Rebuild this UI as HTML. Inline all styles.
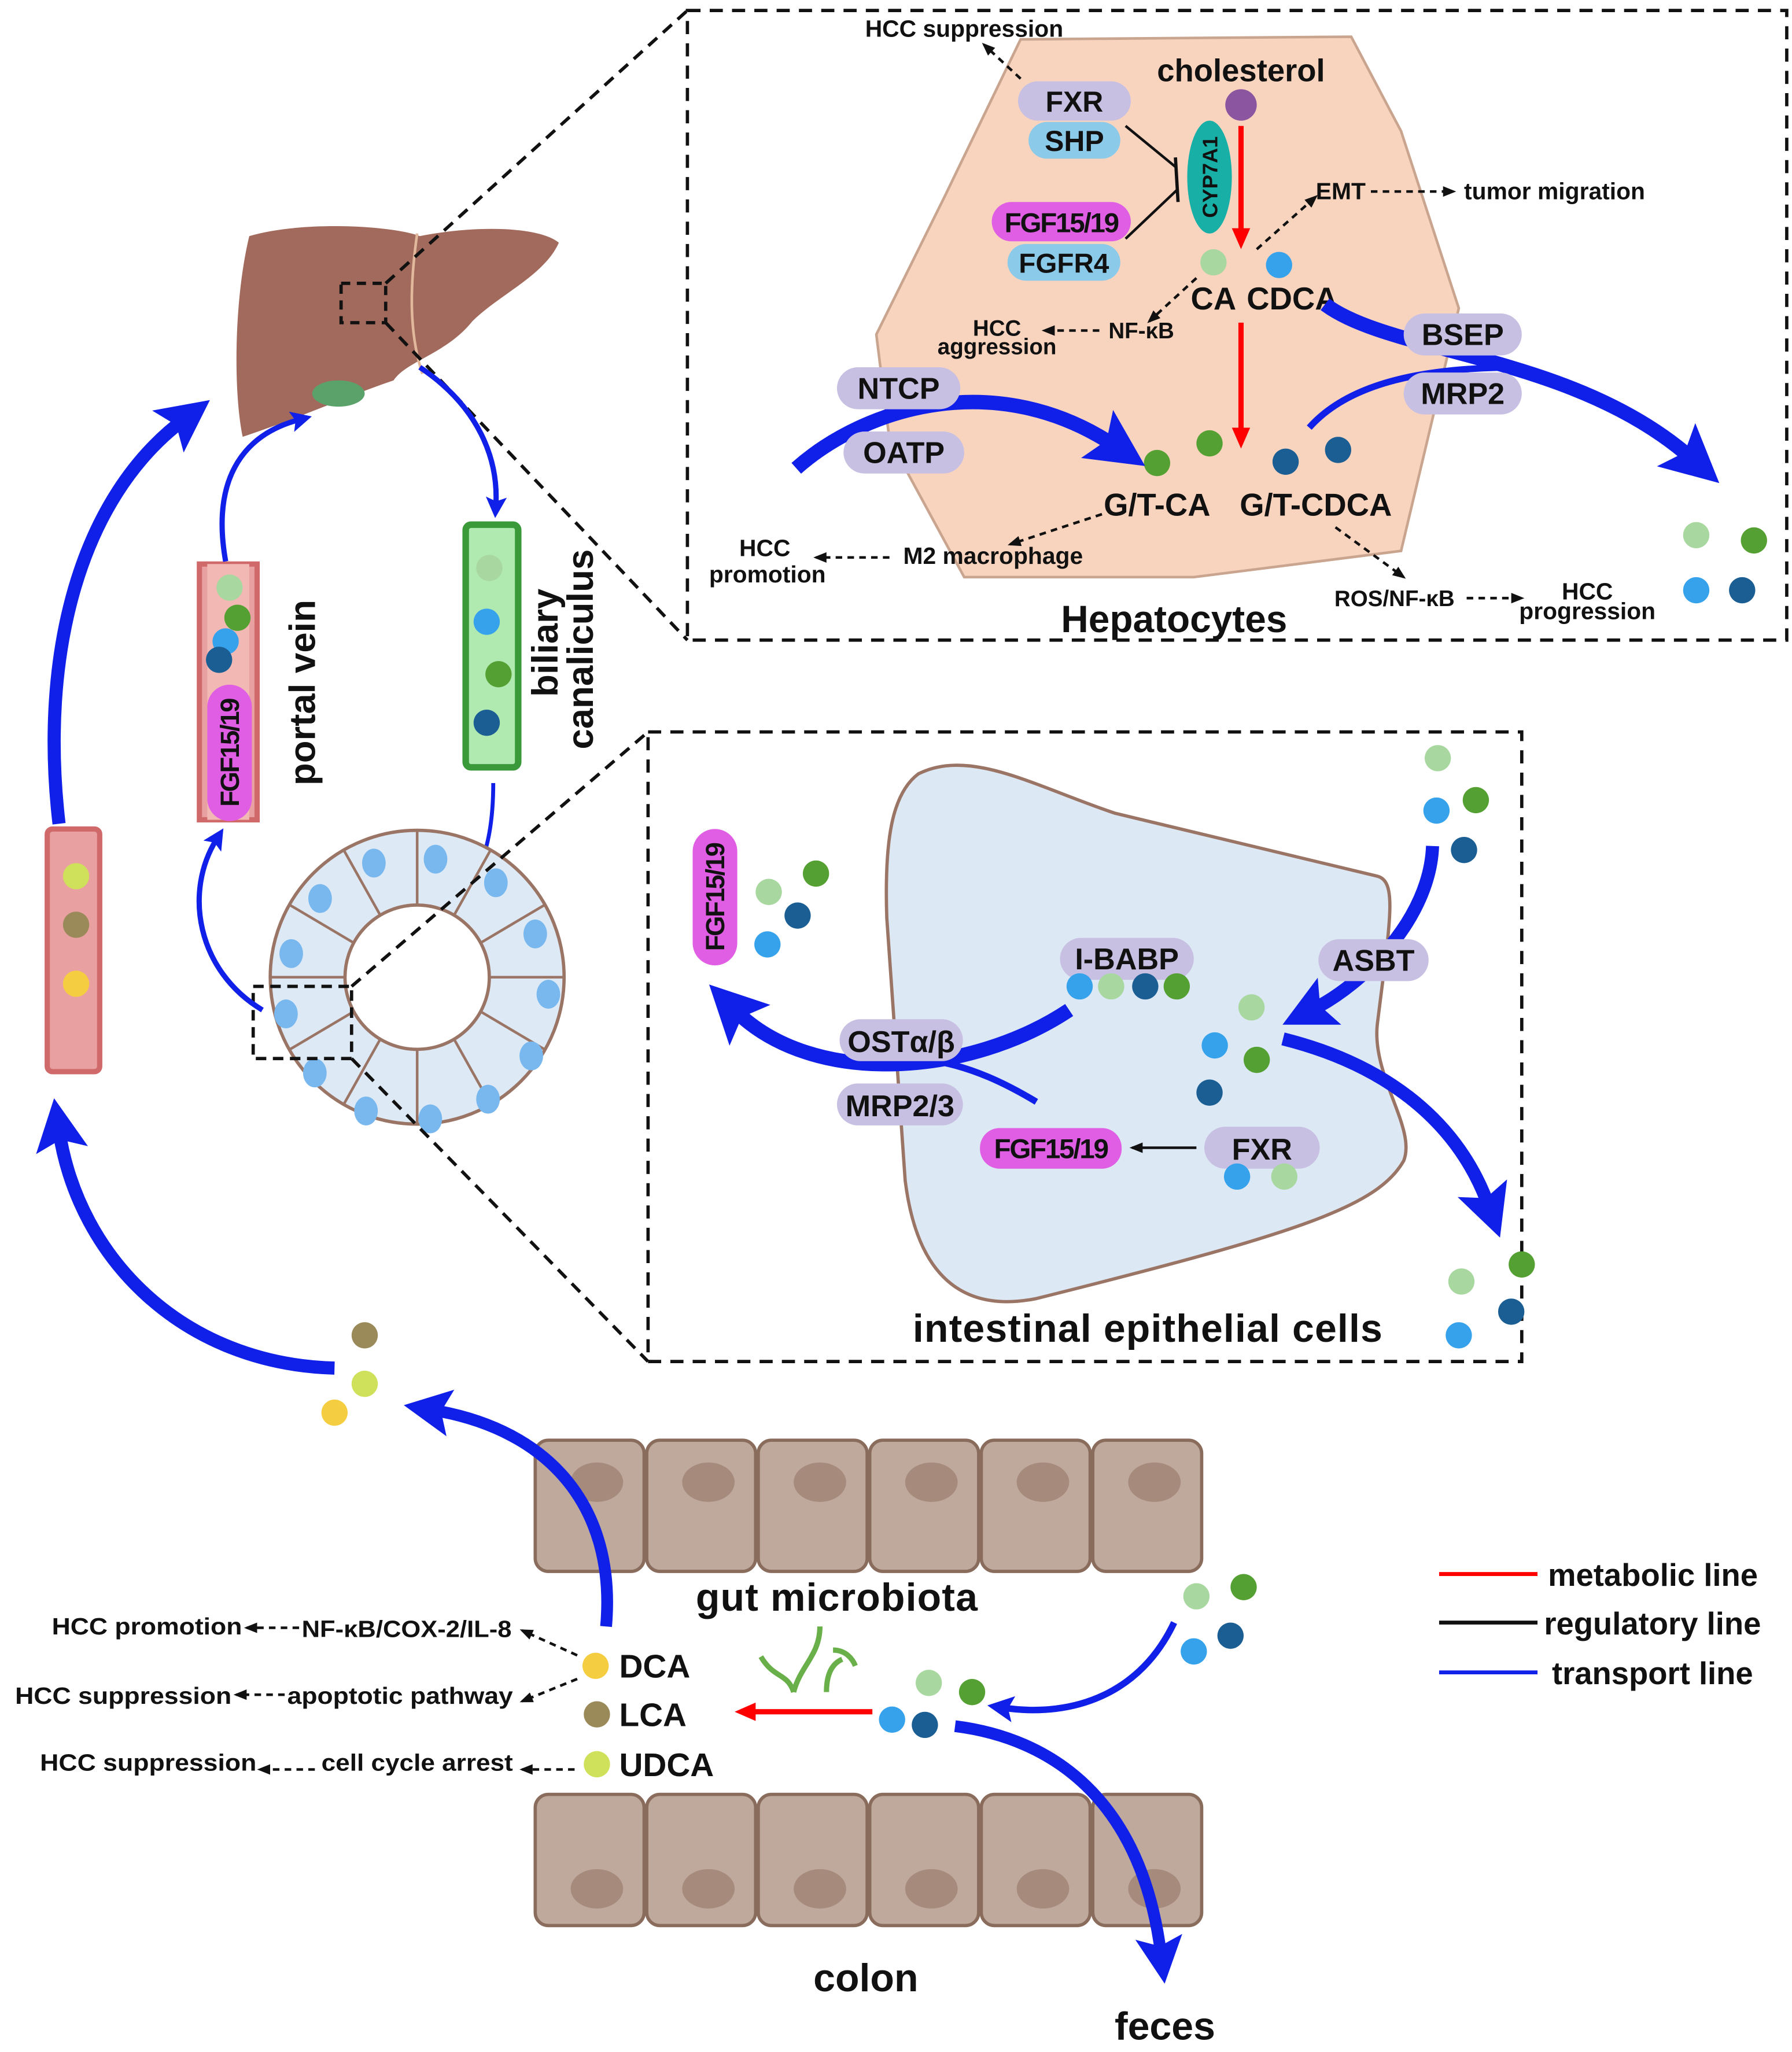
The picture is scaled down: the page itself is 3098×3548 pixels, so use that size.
<!DOCTYPE html>
<html><head><meta charset="utf-8"><style>
html,body{margin:0;padding:0;background:#fff;}
svg{display:block;}
text{font-family:"Liberation Sans",sans-serif;font-weight:bold;fill:#111;}
</style></head><body>
<svg width="3098" height="3548" viewBox="0 0 1366 1564.4" preserveAspectRatio="none" xmlns="http://www.w3.org/2000/svg">
<defs>
<marker id="bh" markerUnits="strokeWidth" markerWidth="4" markerHeight="4" refX="1.5" refY="2" orient="auto"><path d="M0,0 L4,2 L0,4 L0.8,2 Z" fill="#1020e8"/></marker>
<marker id="rh" markerUnits="userSpaceOnUse" markerWidth="16" markerHeight="14" refX="4" refY="7" orient="auto"><path d="M0,0 L16,7 L0,14 Z" fill="#f00"/></marker>
<marker id="kh" markerUnits="userSpaceOnUse" markerWidth="10" markerHeight="8" refX="8" refY="4" orient="auto"><path d="M0,0 L10,4 L0,8 Z" fill="#111"/></marker>
</defs>
<rect width="1366" height="1565" fill="#fff"/>

<!-- hepatocyte box -->
<rect x="524" y="8" width="838" height="480" fill="none" stroke="#111" stroke-width="2.5" stroke-dasharray="10,7"/>
<path d="M778,30 L1030,28 L1068,100 L1112,235 L1068,420 L910,440 L735,440 L678,335 L668,255 L720,150 Z" fill="#f8d4bf" stroke="#c9a48e" stroke-width="2"/>
<text x="735" y="28" font-size="18" text-anchor="middle">HCC suppression</text>
<line x1="778" y1="60" x2="750" y2="34" stroke="#111" stroke-width="2" stroke-dasharray="5,4" marker-end="url(#kh)"/>
<text x="946" y="62" font-size="24" text-anchor="middle">cholesterol</text>
<circle cx="946" cy="80" r="12" fill="#8c55a0"/>
<line x1="946" y1="96" x2="946" y2="178" stroke="#f00" stroke-width="4" marker-end="url(#rh)"/>
<ellipse cx="922" cy="135" rx="17" ry="43" fill="#18b0a6"/>
<text x="0" y="0" font-size="16" text-anchor="middle" transform="translate(928,135) rotate(-90)">CYP7A1</text>
<rect x="776" y="62" width="86" height="30" rx="15" fill="#c8c0e2"/><text x="819" y="85" font-size="22" text-anchor="middle">FXR</text>
<rect x="784" y="93" width="70" height="28" rx="14" fill="#8ccaea"/><text x="819" y="115" font-size="22" text-anchor="middle">SHP</text>
<rect x="756" y="154" width="106" height="30" rx="15" fill="#e05ee4"/><text x="809" y="177" font-size="21" text-anchor="middle" letter-spacing="-1">FGF15/19</text>
<rect x="768" y="186" width="86" height="28" rx="14" fill="#8ccaea"/><text x="811" y="208" font-size="21" text-anchor="middle">FGFR4</text>
<path d="M858,96 L897,128" stroke="#111" stroke-width="2" fill="none"/>
<path d="M858,182 L897,145" stroke="#111" stroke-width="2" fill="none"/>
<line x1="896" y1="120" x2="898" y2="154" stroke="#111" stroke-width="2.5"/>
<circle cx="925" cy="200" r="10" fill="#a8d8a0"/>
<circle cx="975" cy="202" r="10" fill="#36a2ec"/>
<text x="925" y="236" font-size="24" text-anchor="middle">CA</text>
<text x="985" y="236" font-size="24" text-anchor="middle">CDCA</text>
<line x1="958" y1="190" x2="1003" y2="150" stroke="#111" stroke-width="2" stroke-dasharray="5,4" marker-end="url(#kh)"/>
<text x="1022" y="152" font-size="18" text-anchor="middle">EMT</text>
<line x1="1045" y1="146" x2="1108" y2="146" stroke="#111" stroke-width="2" stroke-dasharray="5,4" marker-end="url(#kh)"/>
<text x="1185" y="152" font-size="18" text-anchor="middle">tumor migration</text>
<line x1="912" y1="212" x2="876" y2="245" stroke="#111" stroke-width="2" stroke-dasharray="5,4" marker-end="url(#kh)"/>
<text x="870" y="258" font-size="17" text-anchor="middle">NF-κB</text>
<line x1="838" y1="252" x2="796" y2="252" stroke="#111" stroke-width="2" stroke-dasharray="5,4" marker-end="url(#kh)"/>
<text x="760" y="256" font-size="17" text-anchor="middle">HCC</text>
<text x="760" y="270" font-size="17" text-anchor="middle">aggression</text>
<line x1="946" y1="246" x2="946" y2="330" stroke="#f00" stroke-width="4" marker-end="url(#rh)"/>
<circle cx="882" cy="353" r="10" fill="#55a032"/>
<circle cx="922" cy="338" r="10" fill="#55a032"/>
<circle cx="980" cy="352" r="10" fill="#1a5e94"/>
<circle cx="1020" cy="343" r="10" fill="#1a5e94"/>
<text x="882" y="393" font-size="24" text-anchor="middle">G/T-CA</text>
<text x="1003" y="393" font-size="24" text-anchor="middle">G/T-CDCA</text>
<line x1="840" y1="392" x2="770" y2="415" stroke="#111" stroke-width="2" stroke-dasharray="5,4" marker-end="url(#kh)"/>
<text x="757" y="430" font-size="18" text-anchor="middle">M2 macrophage</text>
<line x1="678" y1="425" x2="622" y2="425" stroke="#111" stroke-width="2" stroke-dasharray="5,4" marker-end="url(#kh)"/>
<text x="583" y="424" font-size="18" text-anchor="middle">HCC</text>
<text x="585" y="444" font-size="18" text-anchor="middle">promotion</text>
<line x1="1018" y1="402" x2="1070" y2="440" stroke="#111" stroke-width="2" stroke-dasharray="5,4" marker-end="url(#kh)"/>
<text x="1063" y="462" font-size="17" text-anchor="middle">ROS/NF-κB</text>
<line x1="1118" y1="456" x2="1160" y2="456" stroke="#111" stroke-width="2" stroke-dasharray="5,4" marker-end="url(#kh)"/>
<text x="1210" y="457" font-size="18" text-anchor="middle">HCC</text>
<text x="1210" y="472" font-size="18" text-anchor="middle">progression</text>
<text x="895" y="482" font-size="29" text-anchor="middle">Hepatocytes</text>
<!-- transport hepatocyte -->
<path d="M607,357 C660,310 760,280 850,340" stroke="#1020e8" stroke-width="11" fill="none" marker-end="url(#bh)"/>
<rect x="638" y="280" width="94" height="32" rx="16" fill="#c8c0e2"/><text x="685" y="304" font-size="23" text-anchor="middle">NTCP</text>
<rect x="643" y="329" width="92" height="32" rx="16" fill="#c8c0e2"/><text x="689" y="353" font-size="23" text-anchor="middle">OATP</text>
<path d="M1010,232 C1060,270 1200,270 1290,350" stroke="#1020e8" stroke-width="11" fill="none" marker-end="url(#bh)"/>
<path d="M998,326 C1030,290 1090,280 1160,280" stroke="#1020e8" stroke-width="5" fill="none"/>
<rect x="1070" y="239" width="90" height="32" rx="16" fill="#c8c0e2"/><text x="1115" y="263" font-size="23" text-anchor="middle">BSEP</text>
<rect x="1070" y="284" width="90" height="32" rx="16" fill="#c8c0e2"/><text x="1115" y="308" font-size="23" text-anchor="middle">MRP2</text>
<circle cx="1293" cy="408" r="10" fill="#a8d8a0"/><circle cx="1337" cy="412" r="10" fill="#55a032"/>
<circle cx="1293" cy="450" r="10" fill="#36a2ec"/><circle cx="1328" cy="450" r="10" fill="#1a5e94"/>

<!-- liver -->
<path d="M190,180 C230,168 300,172 320,180 C360,172 410,172 426,185 C415,210 380,225 360,245 C340,270 310,275 300,290 C270,300 230,318 185,333 C178,300 178,230 190,180 Z" fill="#a26a5c"/>
<path d="M318,178 C312,220 312,255 322,285" stroke="#e2b89c" stroke-width="2" fill="none"/>
<ellipse cx="258" cy="300" rx="20" ry="10" fill="#5aa26a"/>
<rect x="260" y="216" width="34" height="30" fill="none" stroke="#111" stroke-width="2.5" stroke-dasharray="7,5"/>
<line x1="294" y1="216" x2="524" y2="8" stroke="#111" stroke-width="2.5" stroke-dasharray="9,6"/>
<line x1="294" y1="246" x2="524" y2="488" stroke="#111" stroke-width="2.5" stroke-dasharray="9,6"/>
<!-- portal vein -->
<rect x="152" y="430" width="44" height="195" fill="#e8a0a0" stroke="#d06a6a" stroke-width="4"/>
<rect x="158" y="430" width="32" height="195" fill="#f2b8b4"/>
<circle cx="175" cy="448" r="10" fill="#a8d8a0"/><circle cx="181" cy="471" r="10" fill="#55a032"/>
<circle cx="172" cy="489" r="10" fill="#36a2ec"/><circle cx="167" cy="503" r="10" fill="#1a5e94"/>
<rect x="158" y="522" width="34" height="104" rx="17" fill="#e05ee4"/>
<text x="0" y="0" font-size="20" text-anchor="middle" letter-spacing="-1" transform="translate(182,574) rotate(-90)">FGF15/19</text>
<text x="0" y="0" font-size="28" text-anchor="middle" transform="translate(240,528) rotate(-90)">portal vein</text>
<path d="M172,428 C160,360 190,330 228,320" stroke="#1020e8" stroke-width="4" fill="none" marker-end="url(#bh)"/>
<!-- biliary -->
<rect x="355" y="400" width="40" height="185" rx="4" fill="#b0eab0" stroke="#3a9a3a" stroke-width="5"/>
<circle cx="373" cy="433" r="10" fill="#a8d8a0"/><circle cx="371" cy="474" r="10" fill="#36a2ec"/>
<circle cx="380" cy="514" r="10" fill="#55a032"/><circle cx="371" cy="551" r="10" fill="#1a5e94"/>
<text x="0" y="0" font-size="28" text-anchor="middle" transform="translate(425,490) rotate(-90)">biliary</text>
<text x="0" y="0" font-size="28" text-anchor="middle" transform="translate(452,495) rotate(-90)">canaliculus</text>
<path d="M320,280 C365,310 380,350 378,385" stroke="#1020e8" stroke-width="4" fill="none" marker-end="url(#bh)"/>
<path d="M376,597 C376,670 350,700 295,708" stroke="#1020e8" stroke-width="3" fill="none" marker-end="url(#bh)"/>
<!-- left vessel -->
<rect x="36" y="632" width="40" height="185" rx="4" fill="#e8a0a0" stroke="#d06a6a" stroke-width="4"/>
<circle cx="58" cy="668" r="10" fill="#cfe05a"/><circle cx="58" cy="705" r="10" fill="#9a8a5a"/><circle cx="58" cy="750" r="10" fill="#f5cd40"/>
<path d="M45,628 C30,500 60,380 140,320" stroke="#1020e8" stroke-width="10" fill="none" marker-end="url(#bh)"/>
<path d="M255,1043 C140,1040 60,960 45,862" stroke="#1020e8" stroke-width="10" fill="none" marker-end="url(#bh)"/>
<!-- ring -->
<circle cx="318" cy="745" r="112" fill="#dde9f5" stroke="#9a7464" stroke-width="2.5"/>
<circle cx="318" cy="745" r="55" fill="#fff" stroke="#9a7464" stroke-width="2.5"/>
<g stroke="#9a7464" stroke-width="2">
<line x1="373" y1="745" x2="430" y2="745"/><line x1="366" y1="771" x2="415" y2="800"/><line x1="346" y1="792" x2="374" y2="842"/><line x1="318" y1="800" x2="318" y2="857"/><line x1="290" y1="792" x2="262" y2="842"/><line x1="270" y1="771" x2="221" y2="800"/><line x1="263" y1="745" x2="206" y2="745"/><line x1="270" y1="719" x2="221" y2="690"/><line x1="290" y1="698" x2="262" y2="648"/><line x1="318" y1="690" x2="318" y2="633"/><line x1="346" y1="698" x2="374" y2="648"/><line x1="366" y1="719" x2="415" y2="690"/>
</g>
<g fill="#78b8ee">
<ellipse cx="418" cy="758" rx="9" ry="11"/><ellipse cx="405" cy="805" rx="9" ry="11"/><ellipse cx="372" cy="838" rx="9" ry="11"/><ellipse cx="328" cy="853" rx="9" ry="11"/><ellipse cx="279" cy="847" rx="9" ry="11"/><ellipse cx="240" cy="818" rx="9" ry="11"/><ellipse cx="218" cy="773" rx="9" ry="11"/><ellipse cx="222" cy="727" rx="9" ry="11"/><ellipse cx="244" cy="685" rx="9" ry="11"/><ellipse cx="285" cy="658" rx="9" ry="11"/><ellipse cx="332" cy="655" rx="9" ry="11"/><ellipse cx="378" cy="673" rx="9" ry="11"/><ellipse cx="408" cy="712" rx="9" ry="11"/>
</g>
<rect x="193" y="752" width="75" height="55" fill="none" stroke="#111" stroke-width="2.5" stroke-dasharray="8,5"/>
<line x1="268" y1="752" x2="494" y2="558" stroke="#111" stroke-width="2.5" stroke-dasharray="9,6"/>
<line x1="268" y1="807" x2="494" y2="1038" stroke="#111" stroke-width="2.5" stroke-dasharray="9,6"/>
<path d="M200,770 C150,740 140,680 165,640" stroke="#1020e8" stroke-width="4" fill="none" marker-end="url(#bh)"/>

<!-- intestinal box -->
<rect x="494" y="558" width="666" height="480" fill="none" stroke="#111" stroke-width="2.5" stroke-dasharray="10,7"/>
<path d="M700,590 C740,570 790,600 850,620 L1050,668 C1065,672 1060,700 1050,780 C1045,820 1080,860 1070,885 C1050,920 990,940 790,990 C740,1000 700,980 690,900 L676,700 C674,640 680,605 700,590 Z" fill="#dde8f5" stroke="#9a7464" stroke-width="2.5"/>
<rect x="528" y="632" width="34" height="104" rx="17" fill="#e05ee4"/>
<text x="0" y="0" font-size="20" text-anchor="middle" letter-spacing="-1" transform="translate(552,684) rotate(-90)">FGF15/19</text>
<circle cx="586" cy="680" r="10" fill="#a8d8a0"/><circle cx="622" cy="666" r="10" fill="#55a032"/>
<circle cx="608" cy="698" r="10" fill="#1a5e94"/><circle cx="585" cy="720" r="10" fill="#36a2ec"/>
<circle cx="1096" cy="578" r="10" fill="#a8d8a0"/><circle cx="1125" cy="610" r="10" fill="#55a032"/>
<circle cx="1095" cy="618" r="10" fill="#36a2ec"/><circle cx="1116" cy="648" r="10" fill="#1a5e94"/>
<path d="M1092,645 C1090,700 1040,750 1000,770" stroke="#1020e8" stroke-width="10" fill="none" marker-end="url(#bh)"/>
<rect x="1005" y="716" width="84" height="32" rx="16" fill="#c8c0e2"/><text x="1047" y="740" font-size="23" text-anchor="middle">ASBT</text>
<circle cx="954" cy="768" r="10" fill="#a8d8a0"/><circle cx="926" cy="797" r="10" fill="#36a2ec"/>
<circle cx="958" cy="808" r="10" fill="#55a032"/><circle cx="922" cy="833" r="10" fill="#1a5e94"/>
<path d="M978,792 C1050,810 1110,850 1135,920" stroke="#1020e8" stroke-width="10" fill="none" marker-end="url(#bh)"/>
<circle cx="1114" cy="977" r="10" fill="#a8d8a0"/><circle cx="1160" cy="964" r="10" fill="#55a032"/>
<circle cx="1112" cy="1018" r="10" fill="#36a2ec"/><circle cx="1152" cy="1000" r="10" fill="#1a5e94"/>
<rect x="808" y="715" width="102" height="32" rx="16" fill="#c8c0e2"/><text x="859" y="739" font-size="23" text-anchor="middle">I-BABP</text>
<circle cx="823" cy="752" r="10" fill="#36a2ec"/><circle cx="847" cy="752" r="10" fill="#a8d8a0"/>
<circle cx="873" cy="752" r="10" fill="#1a5e94"/><circle cx="897" cy="752" r="10" fill="#55a032"/>
<path d="M815,770 C740,820 620,830 560,770" stroke="#1020e8" stroke-width="11" fill="none" marker-end="url(#bh)"/>
<path d="M790,840 C740,810 700,800 640,810" stroke="#1020e8" stroke-width="5" fill="none"/>
<rect x="640" y="777" width="94" height="32" rx="16" fill="#c8c0e2"/><text x="687" y="802" font-size="23" text-anchor="middle">OSTα/β</text>
<rect x="638" y="826" width="96" height="32" rx="16" fill="#c8c0e2"/><text x="686" y="851" font-size="23" text-anchor="middle">MRP2/3</text>
<rect x="747" y="860" width="108" height="31" rx="15" fill="#e05ee4"/><text x="801" y="883" font-size="21" text-anchor="middle" letter-spacing="-1">FGF15/19</text>
<line x1="912" y1="875" x2="863" y2="875" stroke="#111" stroke-width="2" marker-end="url(#kh)"/>
<rect x="918" y="859" width="88" height="32" rx="16" fill="#c8c0e2"/><text x="962" y="884" font-size="23" text-anchor="middle">FXR</text>
<circle cx="943" cy="897" r="10" fill="#36a2ec"/><circle cx="979" cy="897" r="10" fill="#a8d8a0"/>
<text x="875" y="1023" font-size="30" text-anchor="middle" letter-spacing="0.5">intestinal epithelial cells</text>

<!-- colon -->
<g fill="#bea99c" stroke="#8a6c5c" stroke-width="2.5">
<rect x="408" y="1098" width="83" height="100" rx="10"/><rect x="493" y="1098" width="83" height="100" rx="10"/><rect x="578" y="1098" width="83" height="100" rx="10"/><rect x="663" y="1098" width="83" height="100" rx="10"/><rect x="748" y="1098" width="83" height="100" rx="10"/><rect x="833" y="1098" width="83" height="100" rx="10"/>
<rect x="408" y="1368" width="83" height="100" rx="10"/><rect x="493" y="1368" width="83" height="100" rx="10"/><rect x="578" y="1368" width="83" height="100" rx="10"/><rect x="663" y="1368" width="83" height="100" rx="10"/><rect x="748" y="1368" width="83" height="100" rx="10"/><rect x="833" y="1368" width="83" height="100" rx="10"/>
</g>
<g fill="#a68a7c">
<ellipse cx="455" cy="1130" rx="20" ry="15"/><ellipse cx="540" cy="1130" rx="20" ry="15"/><ellipse cx="625" cy="1130" rx="20" ry="15"/><ellipse cx="710" cy="1130" rx="20" ry="15"/><ellipse cx="795" cy="1130" rx="20" ry="15"/><ellipse cx="880" cy="1130" rx="20" ry="15"/>
<ellipse cx="455" cy="1440" rx="20" ry="15"/><ellipse cx="540" cy="1440" rx="20" ry="15"/><ellipse cx="625" cy="1440" rx="20" ry="15"/><ellipse cx="710" cy="1440" rx="20" ry="15"/><ellipse cx="795" cy="1440" rx="20" ry="15"/><ellipse cx="880" cy="1440" rx="20" ry="15"/>
</g>
<text x="638" y="1228" font-size="30" text-anchor="middle" letter-spacing="0.5">gut microbiota</text>
<text x="660" y="1518" font-size="30" text-anchor="middle">colon</text>
<text x="888" y="1555" font-size="30" text-anchor="middle">feces</text>
<g stroke="#6ab04a" stroke-width="4" fill="none">
<path d="M580,1263 C590,1280 600,1275 605,1290"/><path d="M605,1290 C610,1270 625,1262 625,1240"/><path d="M630,1290 C630,1275 635,1268 642,1265"/><path d="M635,1258 C645,1258 650,1265 652,1270"/>
</g>
<line x1="665" y1="1305" x2="572" y2="1305" stroke="#f00" stroke-width="4" marker-end="url(#rh)"/>
<circle cx="708" cy="1283" r="10" fill="#a8d8a0"/><circle cx="741" cy="1290" r="10" fill="#55a032"/>
<circle cx="680" cy="1311" r="10" fill="#36a2ec"/><circle cx="705" cy="1315" r="10" fill="#1a5e94"/>
<circle cx="912" cy="1217" r="10" fill="#a8d8a0"/><circle cx="948" cy="1210" r="10" fill="#55a032"/>
<circle cx="910" cy="1259" r="10" fill="#36a2ec"/><circle cx="938" cy="1247" r="10" fill="#1a5e94"/>
<path d="M895,1237 C870,1290 820,1310 765,1302" stroke="#1020e8" stroke-width="5" fill="none" marker-end="url(#bh)"/>
<path d="M728,1316 C800,1325 870,1370 885,1490" stroke="#1020e8" stroke-width="9" fill="none" marker-end="url(#bh)"/>
<path d="M462,1240 C470,1150 420,1090 330,1075" stroke="#1020e8" stroke-width="9" fill="none" marker-end="url(#bh)"/>
<circle cx="278" cy="1018" r="10" fill="#9a8a5a"/><circle cx="278" cy="1055" r="10" fill="#cfe05a"/><circle cx="255" cy="1077" r="10" fill="#f5cd40"/>
<circle cx="454" cy="1270" r="10" fill="#f5cd40"/><text x="472" y="1279" font-size="25">DCA</text>
<circle cx="455" cy="1307" r="10" fill="#9a8a5a"/><text x="472" y="1316" font-size="25">LCA</text>
<circle cx="455" cy="1345" r="10" fill="#cfe05a"/><text x="472" y="1354" font-size="25">UDCA</text>
<text x="112" y="1246" font-size="18" text-anchor="middle" textLength="145" lengthAdjust="spacingAndGlyphs">HCC promotion</text>
<text x="310" y="1248" font-size="18" text-anchor="middle" textLength="160" lengthAdjust="spacingAndGlyphs">NF-κB/COX-2/IL-8</text>
<text x="94" y="1299" font-size="18" text-anchor="middle" textLength="165" lengthAdjust="spacingAndGlyphs">HCC suppression</text>
<text x="305" y="1299" font-size="18" text-anchor="middle" textLength="172" lengthAdjust="spacingAndGlyphs">apoptotic pathway</text>
<text x="113" y="1350" font-size="18" text-anchor="middle" textLength="165" lengthAdjust="spacingAndGlyphs">HCC suppression</text>
<text x="318" y="1350" font-size="18" text-anchor="middle" textLength="146" lengthAdjust="spacingAndGlyphs">cell cycle arrest</text>
<g stroke="#111" stroke-width="2" stroke-dasharray="5,4" fill="none">
<line x1="228" y1="1241" x2="188" y2="1241" marker-end="url(#kh)"/>
<line x1="440" y1="1262" x2="398" y2="1243" marker-end="url(#kh)"/>
<line x1="217" y1="1292" x2="180" y2="1292" marker-end="url(#kh)"/>
<line x1="440" y1="1280" x2="398" y2="1297" marker-end="url(#kh)"/>
<line x1="240" y1="1349" x2="198" y2="1349" marker-end="url(#kh)"/>
<line x1="438" y1="1349" x2="398" y2="1349" marker-end="url(#kh)"/>
</g>
<!-- legend -->
<line x1="1097" y1="1200" x2="1172" y2="1200" stroke="#f00" stroke-width="3"/><text x="1180" y="1209" font-size="24">metabolic line</text>
<line x1="1097" y1="1237" x2="1172" y2="1237" stroke="#111" stroke-width="3"/><text x="1177" y="1246" font-size="24">regulatory line</text>
<line x1="1097" y1="1275" x2="1172" y2="1275" stroke="#1020e8" stroke-width="3"/><text x="1183" y="1284" font-size="24">transport line</text>
</svg>
</body></html>
